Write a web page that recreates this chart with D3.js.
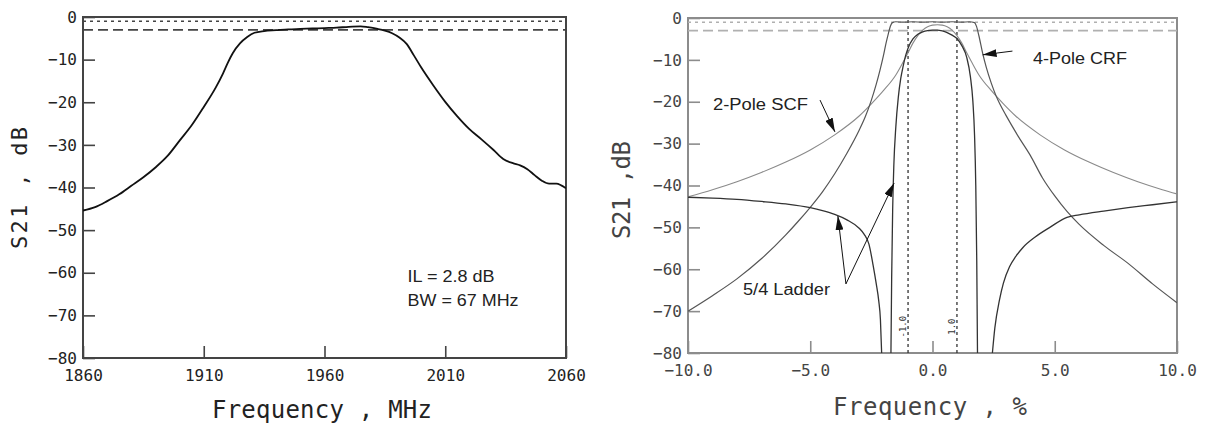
<!DOCTYPE html>
<html><head><meta charset="utf-8">
<script src="https://cdn.jsdelivr.net/npm/d3@7"></script>
<style>body{margin:0;background:#fff}svg{display:block}</style>
</head><body><svg id="c" width="1205" height="424"></svg>
<script>
// ---------- LEFT CHART DATA (measured filter, MHz) ----------
const leftFreq = [1860,1865,1870,1875,1880,1885,1890,1895,1900,1905,1910,1915,1918,1920,1922,1925,1928,1931,1935,1940,1945,1950,1955,1960,1965,1970,1975,1978,1982,1985,1988,1991,1994,1997,2000,2005,2010,2015,2020,2025,2030,2034,2038,2041,2044,2047,2050,2053,2056,2058,2060];
const leftDb   = [-45.4,-44.6,-43.2,-41.6,-39.6,-37.6,-35.3,-32.6,-29.0,-25.4,-21.1,-16.5,-13.2,-10.7,-8.5,-6.2,-4.7,-3.7,-3.3,-3.1,-2.9,-2.8,-2.7,-2.6,-2.5,-2.3,-2.2,-2.4,-2.8,-3.2,-3.8,-4.8,-6.3,-9.0,-11.8,-16.0,-19.9,-23.3,-26.3,-28.7,-31.2,-33.3,-34.3,-34.8,-35.7,-37.1,-38.4,-39.1,-39.1,-39.5,-40.2];
const leftXTicks = [1860,1910,1960,2010,2060];
const leftYTicks = [0,-10,-20,-30,-40,-50,-60,-70,-80];
const leftRefDb = [-1,-3];            // dotted, dashed
const leftNotes = ["IL = 2.8 dB","BW = 67 MHz"];
const leftNoteX = [1994.4,1994.4];
const leftNoteY = [-62.2,-67.8];

// ---------- RIGHT CHART DATA (%, three filter types) ----------
const scfX  = [-10,-9,-8,-7,-6,-5,-4,-3,-2.5,-2,-1.5,-1.2,-1,-0.8,-0.6,-0.4,-0.2,0,0.2,0.4,0.6,0.8,1,1.2,1.4,1.6,1.9,2.4,2.9,3.4,4.4,5.4,6.4,7.4,8.4,9.4,10];
const scfDb = [-42.7,-41.0,-39.1,-36.9,-34.4,-31.5,-27.9,-23.4,-20.5,-17.3,-13.6,-10.5,-8.3,-6.0,-4.2,-2.9,-2.1,-1.7,-1.6,-1.7,-2.1,-2.9,-4.2,-6.0,-8.3,-10.5,-13.6,-17.3,-20.5,-23.4,-27.9,-31.5,-34.4,-36.9,-39.1,-41.0,-42.0];

const crfX  = [-10,-9,-8,-7,-6,-5.5,-5,-4.5,-4,-3.5,-3,-2.75,-2.5,-2.3,-2.15,-2,-1.9,-1.8,-1.72,-1.64,-1.5,-1.2,-0.8,-0.4,0,0.4,0.8,1.2,1.5,1.72,1.8,1.9,2.05,2.2,2.4,2.6,2.75,3,3.5,4,4.5,5,5.5,6,7,8,9,10];
const crfDb = [-70,-66.3,-62.3,-57.5,-51.8,-48.6,-45.2,-41.5,-37.2,-32.3,-26.8,-23.6,-19.6,-15.8,-12.5,-8.8,-6.0,-3.6,-1.9,-1.1,-0.9,-1.0,-0.9,-1.0,-0.9,-1.0,-0.9,-1.0,-0.9,-1.1,-2.0,-4.3,-8.4,-11.8,-15.5,-18.6,-20.5,-23.2,-28.2,-32.8,-38.2,-42.5,-46.2,-49.3,-54.3,-58.6,-63.5,-68];

// null = notch depth below the plotted range
const ladderX  = [-10,-9,-8,-7,-6,-5,-4.5,-4,-3.5,-3,-2.8,-2.6,-2.43,-2.3,-2.2,-2.13,-2.08,-1.9,-1.70,-1.67,-1.63,-1.58,-1.5,-1.4,-1.3,-1.2,-1.1,-1.0,-0.8,-0.6,-0.4,-0.2,0,0.2,0.4,0.6,0.8,1.0,1.2,1.4,1.55,1.65,1.72,1.77,1.81,1.84,2.15,2.45,2.55,2.74,2.9,3.15,3.4,3.7,4.2,4.8,5.5,6,7,8,9,10];
const ladderDb = [-42.8,-43.0,-43.3,-43.8,-44.4,-45.3,-46.0,-46.9,-48.2,-50.2,-51.6,-54.0,-59.0,-63.5,-67.5,-72,-80,null,-80,-62,-46,-35,-26,-19,-14.5,-11.5,-9,-7.2,-5.0,-3.9,-3.3,-3.0,-2.9,-2.9,-3.1,-3.5,-4.1,-4.9,-6.6,-9.4,-14,-19.8,-28,-40,-58,-80,null,-80,-74,-67.3,-63.3,-59.4,-57,-54.8,-52.3,-50.0,-47.6,-47.0,-46.1,-45.3,-44.6,-43.9];

const rightXTicks = [-10,-5,0,5,10];
const rightYTicks = [0,-10,-20,-30,-40,-50,-60,-70,-80];
const rightRefDb = [-1,-3];
const bandEdgeX = [-1,1];
const bandEdgeLabels = ["-1.0","1.0"];
const bandEdgeLabelDb = -73.7;

const noteLabels = ["2-Pole SCF","4-Pole CRF","5/4 Ladder"];
const noteX = [-8.98,4.11,-7.75];
const noteY = [-22,-11,-66.2];
const noteLen = [95,94,87];
const arrowFromX = [-4.6,3.27,-3.54,-3.54];
const arrowFromY = [-19.6,-7.9,-63.5,-63.5];
const arrowToX   = [-3.99,2.05,-3.87,-1.57];
const arrowToY   = [-27.2,-8.8,-47.3,-39.4];

// ---------- DRAWING ----------
const svg = d3.select("#c");
const mono = "'DejaVu Sans Mono', monospace";
const sans = "'Liberation Sans', Arial, sans-serif";

const defs = svg.append("defs");
defs.append("marker").attr("id","ah").attr("viewBox","0 0 14 8")
  .attr("refX",14).attr("refY",4).attr("markerWidth",14).attr("markerHeight",8)
  .attr("markerUnits","userSpaceOnUse").attr("orient","auto")
  .append("path").attr("d","M0,0L14,4L0,8Z").attr("fill","#111");

function panel(o){
  const g = svg.append("g");
  const x = d3.scaleLinear().domain(o.xDom).range(o.xRange);
  const y = d3.scaleLinear().domain([-80,0]).range(o.yRange);
  const clipId = o.id+"clip";
  defs.append("clipPath").attr("id",clipId).append("rect")
    .attr("x",o.xRange[0]).attr("y",o.yRange[1])
    .attr("width",o.xRange[1]-o.xRange[0]).attr("height",o.yRange[0]-o.yRange[1]);
  // axes
  const ya = g.append("g").attr("transform",`translate(${o.xRange[0]},0)`)
    .call(d3.axisLeft(y).tickValues(o.yTicks).tickSizeInner(-12).tickSizeOuter(0).tickPadding(6).tickFormat(d3.format("d")));
  const xa = g.append("g").attr("transform",`translate(0,${o.yRange[0]})`)
    .call(d3.axisBottom(x).tickValues(o.xTicks).tickSizeInner(-12).tickSizeOuter(0).tickPadding(12).tickFormat(o.xFmt));
  [ya,xa].forEach(a=>{
    a.select(".domain").remove();
    a.selectAll(".tick line").attr("stroke",o.axisColor).attr("stroke-width",1.6);
    a.selectAll(".tick text").attr("fill",o.textColor).style("font-family",mono).style("font-size","16px");
  });
  // frame
  g.append("rect").attr("x",o.xRange[0]).attr("y",o.yRange[1])
    .attr("width",o.xRange[1]-o.xRange[0]).attr("height",o.yRange[0]-o.yRange[1])
    .attr("fill","none").attr("stroke",o.axisColor).attr("stroke-width",2);
  // reference lines
  g.append("line").attr("x1",o.xRange[0]).attr("x2",o.xRange[1])
    .attr("y1",y(o.refDb[0])).attr("y2",y(o.refDb[0]))
    .attr("stroke",o.refColor).attr("stroke-width",1.5).attr("stroke-dasharray","3,4");
  g.append("line").attr("x1",o.xRange[0]).attr("x2",o.xRange[1])
    .attr("y1",y(o.refDb[1])).attr("y2",y(o.refDb[1]))
    .attr("stroke",o.refColor).attr("stroke-width",1.8).attr("stroke-dasharray","10,5");
  return {g,x,y,clipId};
}

// LEFT
const L = panel({id:"L",xDom:[1860,2060],xRange:[83,566],yRange:[358,17],
  xTicks:leftXTicks,yTicks:leftYTicks,xFmt:d3.format("d"),
  axisColor:"#444",textColor:"#222",refColor:"#444",refDb:leftRefDb});
L.g.append("path").datum(leftFreq.map((f,i)=>[f,leftDb[i]]))
  .attr("clip-path",`url(#${L.clipId})`)
  .attr("fill","none").attr("stroke","#111").attr("stroke-width",1.8)
  .attr("d",d3.line().x(d=>L.x(d[0])).y(d=>L.y(d[1])).curve(d3.curveMonotoneX));
leftNotes.forEach((t,i)=>{
  L.g.append("text").attr("x",L.x(leftNoteX[i])).attr("y",L.y(leftNoteY[i]))
    .style("font-family",sans).style("font-size","16px").attr("fill","#222")
    .attr("textLength",i===0?87:111).attr("lengthAdjust","spacingAndGlyphs").text(t);
});
svg.append("text").attr("x",322).attr("y",418).attr("text-anchor","middle")
  .style("font-family",mono).style("font-size","24px").attr("fill","#222")
  .attr("textLength",220).text("Frequency , MHz");
svg.append("text").attr("transform","translate(27,188) rotate(-90)").attr("text-anchor","middle")
  .style("font-family",mono).style("font-size","22px").attr("fill","#222")
  .attr("textLength",122).text("S21 , dB");

// RIGHT
const R = panel({id:"R",xDom:[-10,10],xRange:[688,1177],yRange:[353,18],
  xTicks:rightXTicks,yTicks:rightYTicks,xFmt:d3.format(".1f"),
  axisColor:"#8c8c8c",textColor:"#444",refColor:"#b0b0b0",refDb:rightRefDb});
// band edge dotted verticals
bandEdgeX.forEach((v,i)=>{
  R.g.append("line").attr("x1",R.x(v)).attr("x2",R.x(v)).attr("y1",R.y(-0.5)).attr("y2",R.y(-80))
    .attr("stroke","#333").attr("stroke-width",1.3).attr("stroke-dasharray","3,3");
  R.g.append("text").attr("transform",`translate(${R.x(v)-2},${R.y(bandEdgeLabelDb)}) rotate(-90)`)
    .attr("text-anchor","middle").style("font-family",mono).style("font-size","9px").attr("fill","#333")
    .text(bandEdgeLabels[i]);
});
const lineR = d3.line().defined(d=>d[1]!==null).x(d=>R.x(d[0])).y(d=>R.y(d[1])).curve(d3.curveMonotoneX);
const curves = [
  {xs:scfX, ys:scfDb, color:"#8a8a8a", w:1.1},
  {xs:crfX, ys:crfDb, color:"#555", w:1.2},
  {xs:ladderX, ys:ladderDb, color:"#333", w:1.3}
];
curves.forEach(c=>{
  R.g.append("path").datum(c.xs.map((v,i)=>[v,c.ys[i]]))
    .attr("clip-path",`url(#${R.clipId})`)
    .attr("fill","none").attr("stroke",c.color).attr("stroke-width",c.w).attr("d",lineR);
});
noteLabels.forEach((t,i)=>{
  R.g.append("text").attr("x",R.x(noteX[i])).attr("y",R.y(noteY[i]))
    .style("font-family",sans).style("font-size","16px").attr("fill","#222")
    .attr("textLength",noteLen[i]).attr("lengthAdjust","spacingAndGlyphs").text(t);
});
arrowFromX.forEach((v,i)=>{
  R.g.append("line").attr("x1",R.x(v)).attr("y1",R.y(arrowFromY[i]))
    .attr("x2",R.x(arrowToX[i])).attr("y2",R.y(arrowToY[i]))
    .attr("stroke","#111").attr("stroke-width",1).attr("marker-end","url(#ah)");
});
svg.append("text").attr("x",930).attr("y",415).attr("text-anchor","middle")
  .style("font-family",mono).style("font-size","24px").attr("fill","#444")
  .attr("textLength",194).text("Frequency , %");
svg.append("text").attr("transform","translate(630,190) rotate(-90)").attr("text-anchor","middle")
  .style("font-family",mono).style("font-size","24px").attr("fill","#444")
  .attr("textLength",98).text("S21 ,dB");
</script></body></html>
